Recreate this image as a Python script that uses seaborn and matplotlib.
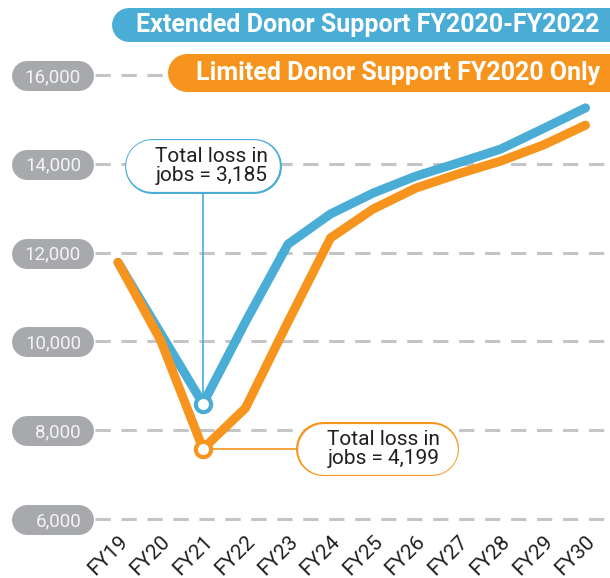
import numpy as np
import pandas as pd
import matplotlib
matplotlib.use("Agg")
import matplotlib.pyplot as plt
from matplotlib.lines import Line2D
from matplotlib.transforms import IdentityTransform
import seaborn as sns

# --- dados ---
years = ["FY19", "FY20", "FY21", "FY22", "FY23", "FY24",
         "FY25", "FY26", "FY27", "FY28", "FY29", "FY30"]
extended = [11780, 10190, 8595, 10440, 12190, 12870,
            13340, 13720, 14020, 14330, 14790, 15260]
limited = [11780, 10030, 7581, 8500, 10440, 12330,
           12980, 13450, 13770, 14060, 14420, 14870]
y_ticks = [6000, 8000, 10000, 12000, 14000, 16000]

ext_name = "Extended Donor Support FY2020-FY2022"
lim_name = "Limited Donor Support FY2020 Only"
ext_note = "Total loss in\njobs = 3,185"
lim_note = "Total loss in\njobs = 4,199"

BLUE = "#4aadd6"
ORANGE = "#f7941d"
PILL = "#a7a9ac"
GRID = "#c4c5c7"
INK = "#231f20"

sns.set_style("white")
plt.rcParams["font.family"] = ["Roboto", "DejaVu Sans"]

df = pd.DataFrame({
    "pos": list(range(len(years))) * 2,
    "jobs": extended + limited,
    "scenario": [ext_name] * len(years) + [lim_name] * len(years),
})

W, H = 610, 578
fig = plt.figure(figsize=(W / 100, H / 100), dpi=100)
ax = fig.add_axes([95 / W, 59 / H, 515 / W, 519 / H])

sns.lineplot(data=df, x="pos", y="jobs", hue="scenario",
             hue_order=[ext_name, lim_name], palette=[BLUE, ORANGE],
             lw=6.5, legend=False, ax=ax,
             solid_capstyle="round", solid_joinstyle="round", zorder=3)

ax.set_xlim(-0.541, 11.576)
ax.set_ylim(6000, 6000 + 519 / 0.0444)
for s in ax.spines.values():
    s.set_visible(False)
ax.set_xlabel("")
ax.set_ylabel("")

# linhas de grade tracejadas
for v in y_ticks:
    ax.axhline(v, color=GRID, lw=2.2, ls=(0, (5, 3.5)), zorder=0, clip_on=False)

# eixo x
ax.set_xticks(range(len(years)))
ax.set_xticklabels(years, rotation=45, ha="right", rotation_mode="anchor",
                   fontsize=15, color=INK)
ax.set_xticks(np.arange(len(years) - 1) + 0.5, minor=True)
ax.tick_params(axis="x", which="major", length=0, pad=9)
ax.tick_params(axis="x", which="minor", length=5, width=2, color=GRID)

# eixo y com "pílulas" cinzas
ax.set_yticks(y_ticks)
ax.set_yticklabels([f"{v:,}" for v in y_ticks], fontsize=13.5, color="#f4f4f4")
ax.tick_params(axis="y", length=0, pad=10)


def pill(target, x0, x1, yc, h, color, edge=None, border=1.6, z=-1):
    # "pílula" em pixels: linha grossa com pontas redondas
    r = h / 2
    kw = dict(transform=IdentityTransform(), solid_capstyle="round")
    if edge is None:
        target.add_artist(Line2D([x0 + r, x1 - r], [yc, yc], lw=h * 0.72,
                                 color=color, zorder=z, **kw))
    else:
        target.add_artist(Line2D([x0 + r, x1 - r], [yc, yc], lw=h * 0.72,
                                 color=edge, zorder=z, **kw))
        target.add_artist(Line2D([x0 + r, x1 - r], [yc, yc],
                                 lw=(h - 2 * border) * 0.72,
                                 color=color, zorder=z + 0.1, **kw))


for v in y_ticks:
    _, yd = ax.transData.transform((0, v))
    pill(fig, 12, 94, yd - 1, 30, PILL)

# legenda no topo
pill(fig, 112, 640, H - 25, 34, BLUE, z=1)
pill(fig, 168, 640, H - 73, 38, ORANGE, z=1)
fig.text(600 / W, 1 - 25 / H, ext_name, ha="right", va="center",
         fontsize=18, fontweight="bold", color="white", zorder=2)
fig.text(600 / W, 1 - 73 / H, lim_name, ha="right", va="center",
         fontsize=18, fontweight="bold", color="white", zorder=2)

# marcadores no ponto mínimo (FY21)
i_min = years.index("FY21")
ax.plot(i_min, extended[i_min], marker="o", ms=11, mfc="white",
        mec=BLUE, mew=3, zorder=6)
ax.plot(i_min, limited[i_min], marker="o", ms=11, mfc="white",
        mec=ORANGE, mew=3, zorder=6)

# caixas de anotação
ext_box_y = 13960
bx, by = ax.transData.transform((i_min, ext_box_y))
ax.plot([i_min, i_min], [extended[i_min], ext_box_y], color=BLUE, lw=1.2,
        zorder=2)
pill(ax, bx - 78, bx + 79, by, 55, "white", edge=BLUE, z=4)
ax.text(i_min + 0.2, ext_box_y, ext_note, ha="center", va="center",
        fontsize=15, color=INK, linespacing=1.0, zorder=7)

lim_box_x = 6.1
ox, oy = ax.transData.transform((lim_box_x, limited[i_min]))
ax.plot([i_min, lim_box_x], [limited[i_min], limited[i_min]], color=ORANGE,
        lw=1.2, zorder=2)
pill(ax, ox - 81, ox + 82, oy, 54, "white", edge=ORANGE, z=4)
ax.text(lim_box_x + 0.15, limited[i_min], lim_note, ha="center", va="center",
        fontsize=15, color=INK, linespacing=1.0, zorder=7)

fig.savefig("out.png", dpi=100)
